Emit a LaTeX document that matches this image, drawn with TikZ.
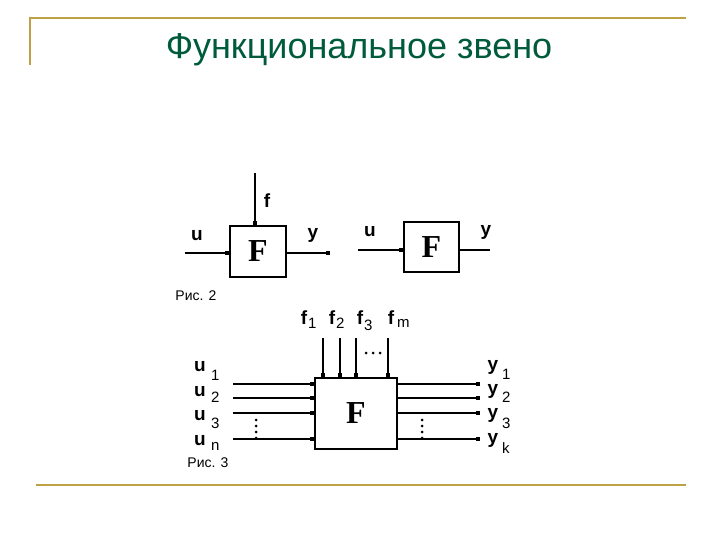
\documentclass[tikz,border=0pt]{standalone}
\usepackage{fontspec}
\setmainfont{Liberation Sans}
\newfontfamily\boxfont{Liberation Serif}
\usetikzlibrary{arrows.meta,calc}
\definecolor{framegold}{RGB}{190,160,70}
\definecolor{titlegreen}{RGB}{0,90,60}
\tikzset{
  blockF/.style={
    draw,
    line width=1.4pt,
    minimum width=56pt,
    minimum height=51pt,
    inner sep=0pt,
    font=\boxfont\bfseries\fontsize{32}{32}\selectfont
  },
  sigline/.style={
    -{Square[length=4pt,width=4pt]},
    line width=1.3pt
  },
  siglabel/.style={
    font=\bfseries\fontsize{19}{19}\selectfont,
    inner sep=0pt
  },
  sublabel/.style={
    font=\fontsize{15}{15}\selectfont,
    inner sep=0pt
  },
  figcap/.style={
    font=\fontsize{14}{14}\selectfont,
    inner sep=0pt
  }
}
\begin{document}
\begin{tikzpicture}[x=1pt,y=-1pt]
    \useasboundingbox (0,0) rectangle (720,540);
    % frame
    \draw[framegold, line width=2pt] (30,65) -- (30,18) -- (686,18);
    \draw[framegold, line width=2pt] (36,485) -- (686,485);
    \node[titlegreen, font=\fontsize{36}{36}\selectfont] (title) at (359,50) {Функциональное звено};

    % Рис. 2, left block
    \node[blockF] (F2a) at (258,251.5) {F};
    \coordinate (fin) at (255,173);
    \coordinate (uin) at (185,253);
    \coordinate (yout) at (330,253);
    \draw[sigline] (fin) -- (fin |- F2a.north);
    \draw[sigline] (uin) -- (uin -| F2a.west);
    \draw[sigline] (yout -| F2a.east) -- (yout);
    \node[siglabel] (lf) at (267,201) {f};
    \node[siglabel] (lu) at (197,236) {u};
    \node[siglabel] (ly) at (313,235) {y};
    \node[figcap] (cap2) at (196,296) {Рис. 2};

    % Рис. 2, right block
    \node[blockF, minimum width=55pt, minimum height=50pt] (F2b) at (431.5,247) {F};
    \coordinate (uinb) at (358,250);
    \coordinate (youtb) at (490,250);
    \draw[sigline] (uinb) -- (uinb -| F2b.west);
    \draw[line width=1.3pt] (youtb -| F2b.east) -- (youtb);
    \node[siglabel] (lub) at (370,232) {u};
    \node[siglabel] (lyb) at (486,232) {y};

    % Рис. 3
    \node[blockF, minimum width=82pt, minimum height=71pt] (F3) at (356,413.5) {F};
    \foreach \i/\yy in {1/384, 2/398, 3/413, 4/439} {
      \coordinate (u\i) at (233,\yy);
      \coordinate (y\i) at (480,\yy);
      \draw[sigline] (u\i) -- (u\i -| F3.west);
      \draw[sigline] (y\i -| F3.east) -- (y\i);
    }
    \foreach \i/\xx in {1/323, 2/340, 3/356, 4/388} {
      \coordinate (f\i) at (\xx,338);
      \draw[sigline] (f\i) -- (f\i |- F3.north);
    }
    % input labels
    \node[siglabel] (lu1) at (200,367) {u};
    \node[sublabel, anchor=west] at (211,375) {1};
    \node[siglabel] (lu2) at (200,392) {u};
    \node[sublabel, anchor=west] at (211,397) {2};
    \node[siglabel] (lu3) at (200,416) {u};
    \node[sublabel, anchor=west] at (211,423) {3};
    \node[siglabel] (lun) at (200,441) {u};
    \node[sublabel, anchor=west] at (211,446) {n};
    % disturbance labels
    \node[siglabel] (lf1) at (304,318) {f};
    \node[sublabel, anchor=west] at (308,323) {1};
    \node[siglabel] (lf2) at (332,318) {f};
    \node[sublabel, anchor=west] at (336,323) {2};
    \node[siglabel] (lf3) at (360,318) {f};
    \node[sublabel, anchor=west] at (364,325) {3};
    \node[siglabel] (lfm) at (391,318) {f};
    \node[sublabel, anchor=west] at (397,323) {m};
    % output labels
    \node[siglabel] (ly1) at (493,367) {y};
    \node[sublabel, anchor=west] at (502,374) {1};
    \node[siglabel] (ly2) at (493,391) {y};
    \node[sublabel, anchor=west] at (502,397) {2};
    \node[siglabel] (ly3) at (493,415) {y};
    \node[sublabel, anchor=west] at (502,423) {3};
    \node[siglabel] (lyk) at (493,440) {y};
    \node[sublabel, anchor=west] at (502,448) {k};
    % dots
    \foreach \yy in {420,426,432,438} {
      \fill (256,\yy) circle (1.5pt);
      \fill (422,\yy) circle (1.5pt);
    }
    \foreach \xx in {366,373,380} {
      \fill (\xx,353) circle (1.5pt);
    }
    \node[figcap] (cap3) at (208,463) {Рис. 3};
\end{tikzpicture}
\end{document}
